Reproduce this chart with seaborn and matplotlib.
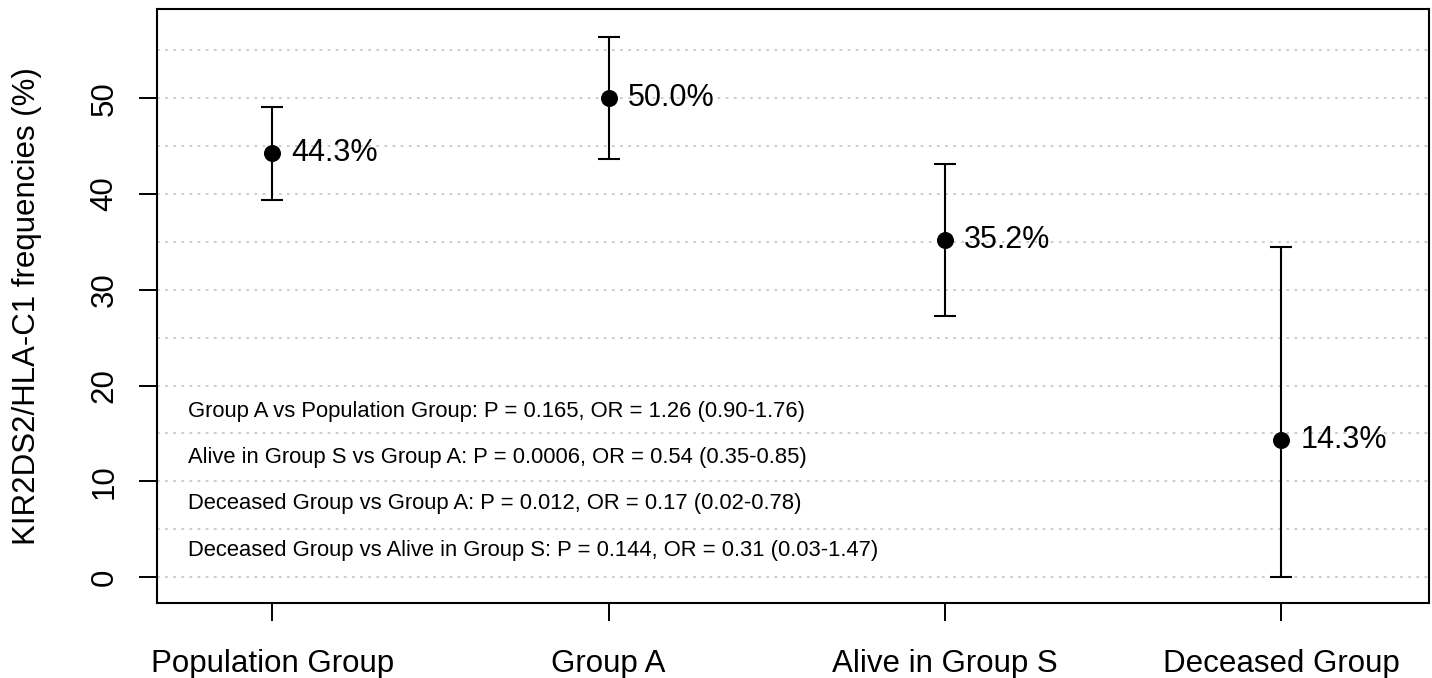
import seaborn as sns
import pandas as pd
from matplotlib import pyplot as plt

groups = ["Population Group", "Group A", "Alive in Group S", "Deceased Group"]
freq = [44.3, 50.0, 35.2, 14.3]
ci_low = [39.4, 43.6, 27.3, 0.0]
ci_high = [49.1, 56.4, 43.1, 34.5]
value_labels = ["44.3%", "50.0%", "35.2%", "14.3%"]

stats_text = [
    "Group A vs Population Group: P = 0.165, OR = 1.26 (0.90-1.76)",
    "Alive in Group S vs Group A: P = 0.0006, OR = 0.54 (0.35-0.85)",
    "Deceased Group vs Group A: P = 0.012, OR = 0.17 (0.02-0.78)",
    "Deceased Group vs Alive in Group S: P = 0.144, OR = 0.31 (0.03-1.47)",
]
stats_y = [17.3, 12.5, 7.7, 2.8]

df = pd.DataFrame({"group": groups, "freq": freq, "lo": ci_low, "hi": ci_high})

sns.set_style("white")
plt.rcParams["font.family"] = ["Liberation Sans", "DejaVu Sans"]
plt.rcParams["text.color"] = "black"
plt.rcParams["axes.labelcolor"] = "black"
plt.rcParams["xtick.color"] = "black"
plt.rcParams["ytick.color"] = "black"

fig = plt.figure(figsize=(14.32, 6.78), dpi=100)
ax = fig.add_axes([0.1096, 0.1106, 0.8884, 0.876])

# dotted grid every 5 units, drawn under the marks
for y in range(0, 60, 5):
    ax.axhline(y, color="#c8c8c8", lw=1.3, ls=(0, (1.5, 3)), zorder=0)

pos = list(range(len(groups)))
ax.errorbar(pos, df["freq"],
            yerr=[df["freq"] - df["lo"], df["hi"] - df["freq"]],
            fmt="none", ecolor="black", elinewidth=1.5, capsize=8, capthick=1.5, zorder=2)
sns.scatterplot(data=df, x="group", y="freq", color="black", s=150,
                edgecolor="black", linewidth=0, ax=ax, zorder=3)

for p, v, lab in zip(pos, freq, value_labels):
    ax.annotate(lab, (p, v), xytext=(14, 0), textcoords="offset points",
                va="center", ha="left", fontsize=22)

for t, y in zip(stats_text, stats_y):
    ax.text(-0.25, y, t, fontsize=15.8, va="center", ha="left")

ax.set_xlim(-0.343, 3.44)
ax.set_ylim(-2.7, 59.3)
ax.set_yticks([0, 10, 20, 30, 40, 50])
ax.set_xticks(pos)
ax.set_xticklabels(groups)
ax.tick_params(axis="both", direction="out", length=13, width=1.4, labelsize=22.5,
               bottom=True, left=True)
ax.tick_params(axis="x", pad=20)
ax.tick_params(axis="y", pad=14)
plt.setp(ax.get_yticklabels(), rotation=90, va="center")
ax.set_xlabel("")
ax.set_ylabel("KIR2DS2/HLA-C1 frequencies (%)", fontsize=22.5)
ax.yaxis.set_label_coords(-0.09, 0.5)
for s in ax.spines.values():
    s.set_visible(True)
    s.set_color("black")
    s.set_linewidth(1.5)

fig.savefig("out.png", dpi=100)
